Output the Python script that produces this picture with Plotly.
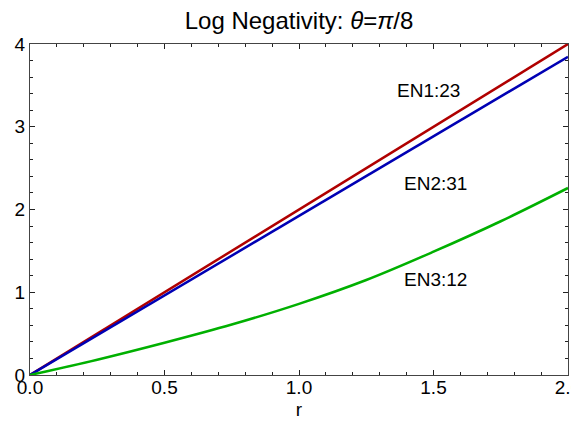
import plotly.graph_objects as go

# Data
r_lin = [0.0, 0.5, 1.0, 1.5, 2.0]
en1 = [0.0, 1.0, 2.0, 3.0, 4.0]
en2 = [0.0, 0.962, 1.923, 2.885, 3.846]

r_en3 = [0.0, 0.25, 0.5, 0.75, 1.0, 1.25, 1.5, 1.75, 2.0]
en3 = [0.0, 0.185, 0.39, 0.61, 0.86, 1.148, 1.49, 1.858, 2.26]

label_text = ["EN1:23", "EN2:31", "EN3:12"]
label_x = [1.482, 1.507, 1.507]
label_y = [3.44, 2.31, 1.152]

x_tickvals = [0.0, 0.5, 1.0, 1.5, 2.0]
y_tickvals = [0, 1, 2, 3, 4]

FONT = "Liberation Sans, Arial, Helvetica, sans-serif"

fig = go.Figure()
fig.add_trace(go.Scatter(x=r_lin, y=en1, mode="lines",
                         line=dict(color="#B00000", width=2.5), showlegend=False))
fig.add_trace(go.Scatter(x=r_lin, y=en2, mode="lines",
                         line=dict(color="#0000B4", width=2.5), showlegend=False))
fig.add_trace(go.Scatter(x=r_en3, y=en3, mode="lines",
                         line=dict(color="#00B000", width=2.5, shape="spline", smoothing=1.0),
                         showlegend=False))

for t, x, y in zip(label_text, label_x, label_y):
    fig.add_annotation(x=x, y=y, text=t, showarrow=False,
                       font=dict(family=FONT, size=19, color="black"),
                       xanchor="center", yanchor="middle")

axis_common = dict(
    showline=True, linecolor="#444444", linewidth=1.2, mirror="ticks",
    ticks="inside", ticklen=5, tickwidth=1, tickcolor="#222222",
    showgrid=False, zeroline=False, automargin=False,
    ticklabeloverflow="allow",
    tickfont=dict(family=FONT, size=19, color="black"),
)

fig.update_xaxes(range=[0, 2], tickvals=x_tickvals, tickformat=".1f",
                 ticklabelstandoff=-5,
                 minor=dict(dtick=0.1, ticks="inside", ticklen=3, tickcolor="#222222", showgrid=False),
                 title=dict(text="r", font=dict(family=FONT, size=19, color="black"), standoff=5),
                 **axis_common)
fig.update_yaxes(range=[0, 4], tickvals=y_tickvals, tickformat="d",
                 minor=dict(dtick=0.2, ticks="inside", ticklen=3, tickcolor="#222222", showgrid=False),
                 **axis_common)

fig.update_layout(
    width=579, height=420,
    margin=dict(l=22, r=19, t=36, b=53),
    plot_bgcolor="white", paper_bgcolor="white",
    title=dict(text="Log Negativity: <i>θ</i>=<i>π</i>/8",
               font=dict(family=FONT, size=24, color="black"),
               x=0.5, xref="paper", xanchor="center",
               y=1 - 13 / 420, yref="container", yanchor="middle"),
)

fig.write_html(
    "out.html",
    post_script="document.documentElement.style.overflow='hidden';document.body.style.overflow='hidden';",
)
